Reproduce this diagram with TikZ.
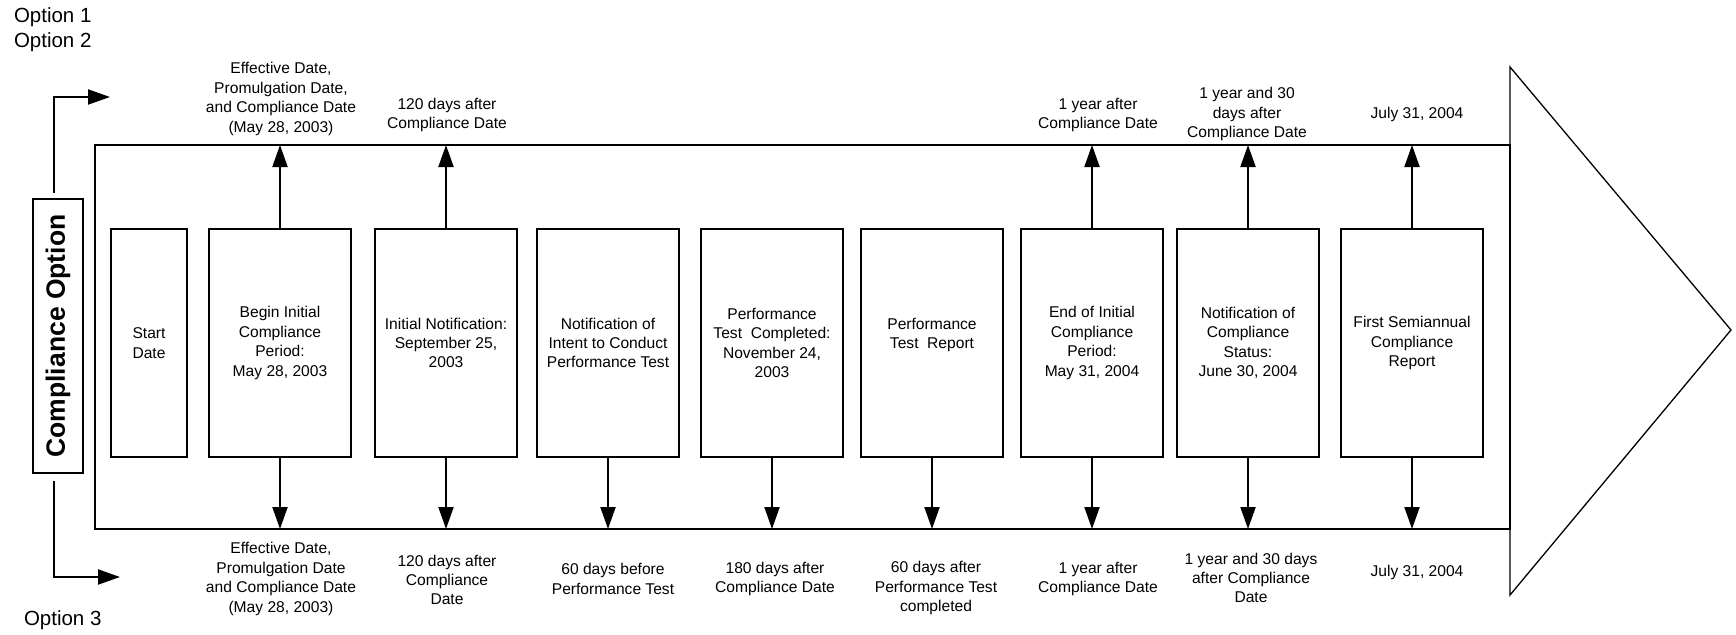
\documentclass[tikz,border=0pt]{standalone}
\usepackage{fontspec}
\setmainfont{Liberation Sans}
\usetikzlibrary{arrows.meta,positioning}

\begin{document}
\begin{tikzpicture}[x=1pt,y=-1pt,>={Triangle[length=22pt,width=15pt]},
  line width=2pt,node distance=20pt]
  \tikzstyle{every node}=[font=\fontsize{15.6}{19.4}\selectfont]
  \tikzstyle{event}=[draw,minimum width=142pt,minimum height=228pt,
    align=center,inner sep=2pt,outer sep=0pt]
  \tikzstyle{note}=[align=center,inner sep=0pt]
  \tikzstyle{option}=[anchor=west,inner sep=0pt,
    font=\fontsize{20.5}{25}\selectfont]

  \useasboundingbox (0,0) rectangle (1736,634);

  \node[option] (opt1) at (13,17) {Option 1};
  \node[option] (opt2) at (13,42) {Option 2};
  \node[option] (opt3) at (23,620) {Option 3};

  \node[draw,rotate=90,minimum width=274pt,minimum height=50pt,outer sep=0pt,
    font=\fontsize{26.5}{30}\selectfont\bfseries] (choice) at (58,336)
    {Compliance Option};
  \coordinate (up12) at (110,97);
  \coordinate (low3) at (120,577);
  \draw[->] ([xshift=-4pt,yshift=6pt]choice.east) |- (up12);
  \draw[->] ([xshift=-4pt,yshift=-8pt]choice.west) |- (low3);

  % big arrow
  \node[draw,minimum width=1415pt,minimum height=384pt,outer sep=0pt]
    (body) at (802.5,337) {};
  \draw[line width=1.3pt] (body.north east) -- (1510,67) -- (1731,330)
    -- (1510,595) -- (body.south east);

  \node[event,minimum width=76pt] (start) at (149,343) {Start\\Date};
  \node[event] (begin) [right=22pt of start]
    {Begin Initial\\Compliance\\Period:\\May 28, 2003};
  \node[event] (notice) [right=24pt of begin]
    {Initial Notification:\\September 25,\\2003};
  \node[event] (intent) [right=20pt of notice]
    {Notification of\\Intent to Conduct\\Performance Test};
  \node[event] (testdone) [right=22pt of intent]
    {Performance\\Test\ \ Completed:\\November 24,\\2003};
  \node[event] (report) [right=18pt of testdone]
    {Performance\\Test\ \ Report\\\mbox{}};
  \node[event] (endinit) [right=18pt of report]
    {End of Initial\\Compliance\\Period:\\May 31, 2004};
  \node[event] (status) [right=14pt of endinit]
    {Notification of\\Compliance\\Status:\\June 30, 2004};
  \node[event] (semi) [right=22pt of status]
    {First Semiannual\\Compliance\\Report};

  % dates above
  \node[note] (topbegin) at (281,99)
    {Effective Date,\\Promulgation Date,\\and Compliance Date\\(May 28, 2003)};
  \node[note] (topnotice) at (447,115) {120 days after\\Compliance Date};
  \node[note] (topend) at (1098,115) {1 year after\\Compliance Date};
  \node[note] (topstatus) at (1247,114) {1 year and 30\\days after\\Compliance Date};
  \node[note] (topsemi) at (1417,114) {July 31, 2004};

  % dates below
  \node[note] (lowbegin) at (281,579)
    {Effective Date,\\Promulgation Date\\and Compliance Date\\(May 28, 2003)};
  \node[note] (lownotice) at (447,580) {120 days after\\Compliance\\Date};
  \node[note] (lowintent) at (613,579) {60 days before\\Performance Test};
  \node[note] (lowdone) at (775,579) {180 days after\\Compliance Date};
  \node[note] (lowreport) at (936,588) {60 days after\\Performance Test\\completed};
  \node[note] (lowend) at (1098,579) {1 year after\\Compliance Date};
  \node[note] (lowstatus) at (1251,578) {1 year and 30 days\\after Compliance\\Date};
  \node[note] (lowsemi) at (1417,572) {July 31, 2004};

  \path[->] (begin) edge (begin.north |- body.north)
        (notice) edge (notice.north |- body.north)
        (endinit) edge (endinit.north |- body.north)
        (status) edge (status.north |- body.north)
        (semi) edge (semi.north |- body.north)
        (begin) edge (begin.south |- body.south)
        (notice) edge (notice.south |- body.south)
        (intent) edge (intent.south |- body.south)
        (testdone) edge (testdone.south |- body.south)
        (report) edge (report.south |- body.south)
        (endinit) edge (endinit.south |- body.south)
        (status) edge (status.south |- body.south)
        (semi) edge (semi.south |- body.south);
\end{tikzpicture}
\end{document}
